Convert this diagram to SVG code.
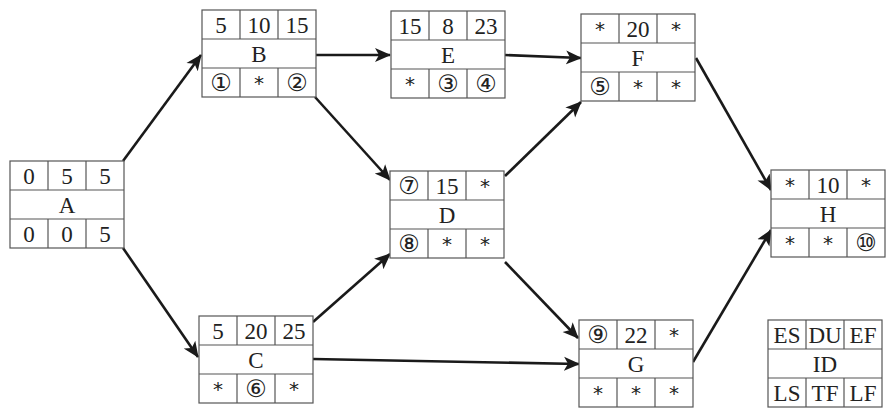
<svg xmlns="http://www.w3.org/2000/svg" width="895" height="420" viewBox="0 0 895 420">
<style>
.box rect{fill:#fff;stroke:#555;stroke-width:1.2}
.box line{stroke:#555;stroke-width:1.2}
text{font-family:'Liberation Serif','DejaVu Serif',serif;font-size:23px;fill:#222;text-anchor:middle;dominant-baseline:central}
text.c{font-family:'DejaVu Sans','Noto Sans CJK SC',sans-serif;font-size:24px}
text.s{font-family:'DejaVu Sans',sans-serif;font-size:20px}
.e line{stroke:#1a1a1a;stroke-width:2.6;marker-end:url(#ah)}
</style>
<defs>
<marker id="ah" markerUnits="userSpaceOnUse" markerWidth="18" markerHeight="16" refX="15" refY="8" orient="auto" viewBox="0 0 18 16">
<path d="M0,1 L16,8 L0,15 L4,8 z" fill="#1a1a1a"/>
</marker>
<g id="frame" class="box">
<rect x="0" y="0" width="114" height="87"/>
<line x1="0" y1="29" x2="114" y2="29"/>
<line x1="0" y1="58" x2="114" y2="58"/>
<line x1="38" y1="0" x2="38" y2="29"/>
<line x1="76" y1="0" x2="76" y2="29"/>
<line x1="38" y1="58" x2="38" y2="87"/>
<line x1="76" y1="58" x2="76" y2="87"/>
</g>
</defs>
<rect width="895" height="420" fill="#fff"/>
<g id="connectors" class="e">
<line x1="123" y1="161" x2="201" y2="55"/>
<line x1="123" y1="248" x2="198" y2="357"/>
<line x1="315" y1="55" x2="390" y2="55"/>
<line x1="315" y1="97" x2="390" y2="180"/>
<line x1="505" y1="55" x2="581" y2="58"/>
<line x1="505" y1="176" x2="581" y2="102"/>
<line x1="313" y1="322" x2="390" y2="254"/>
<line x1="313" y1="359" x2="579" y2="364"/>
<line x1="505" y1="262" x2="578" y2="338"/>
<line x1="696" y1="58" x2="771" y2="190"/>
<line x1="693" y1="362" x2="771" y2="230"/>
</g>
<g id="A" transform="translate(10,161)"><use href="#frame"/>
<text x="19" y="15">0</text><text x="57" y="15">5</text><text x="95" y="15">5</text>
<text x="57" y="44">A</text>
<text x="19" y="73">0</text><text x="57" y="73">0</text><text x="95" y="73">5</text></g>
<g id="B" transform="translate(202,10)"><use href="#frame"/>
<text x="19" y="15">5</text><text x="57" y="15">10</text><text x="95" y="15">15</text>
<text x="57" y="44">B</text>
<text class="c" x="19" y="73">①</text><text class="s" x="57" y="73">*</text><text class="c" x="95" y="73">②</text></g>
<g id="E" transform="translate(391,11)"><use href="#frame"/>
<text x="19" y="15">15</text><text x="57" y="15">8</text><text x="95" y="15">23</text>
<text x="57" y="44">E</text>
<text class="s" x="19" y="73">*</text><text class="c" x="57" y="73">③</text><text class="c" x="95" y="73">④</text></g>
<g id="F" transform="translate(581,14)"><use href="#frame"/>
<text class="s" x="19" y="15">*</text><text x="57" y="15">20</text><text class="s" x="95" y="15">*</text>
<text x="57" y="44">F</text>
<text class="c" x="19" y="73">⑤</text><text class="s" x="57" y="73">*</text><text class="s" x="95" y="73">*</text></g>
<g id="D" transform="translate(390,171)"><use href="#frame"/>
<text class="c" x="19" y="15">⑦</text><text x="57" y="15">15</text><text class="s" x="95" y="15">*</text>
<text x="57" y="44">D</text>
<text class="c" x="19" y="73">⑧</text><text class="s" x="57" y="73">*</text><text class="s" x="95" y="73">*</text></g>
<g id="C" transform="translate(199,316)"><use href="#frame"/>
<text x="19" y="15">5</text><text x="57" y="15">20</text><text x="95" y="15">25</text>
<text x="57" y="44">C</text>
<text class="s" x="19" y="73">*</text><text class="c" x="57" y="73">⑥</text><text class="s" x="95" y="73">*</text></g>
<g id="G" transform="translate(579,320)"><use href="#frame"/>
<text class="c" x="19" y="15">⑨</text><text x="57" y="15">22</text><text class="s" x="95" y="15">*</text>
<text x="57" y="44">G</text>
<text class="s" x="19" y="73">*</text><text class="s" x="57" y="73">*</text><text class="s" x="95" y="73">*</text></g>
<g id="H" transform="translate(771,170)"><use href="#frame"/>
<text class="s" x="19" y="15">*</text><text x="57" y="15">10</text><text class="s" x="95" y="15">*</text>
<text x="57" y="44">H</text>
<text class="s" x="19" y="73">*</text><text class="s" x="57" y="73">*</text><text class="c" x="95" y="73">⑩</text></g>
<g id="legend" transform="translate(768,320)"><use href="#frame"/>
<text x="19" y="15">ES</text><text x="57" y="15">DU</text><text x="95" y="15">EF</text>
<text x="57" y="44">ID</text>
<text x="19" y="73">LS</text><text x="57" y="73">TF</text><text x="95" y="73">LF</text></g>
</svg>
